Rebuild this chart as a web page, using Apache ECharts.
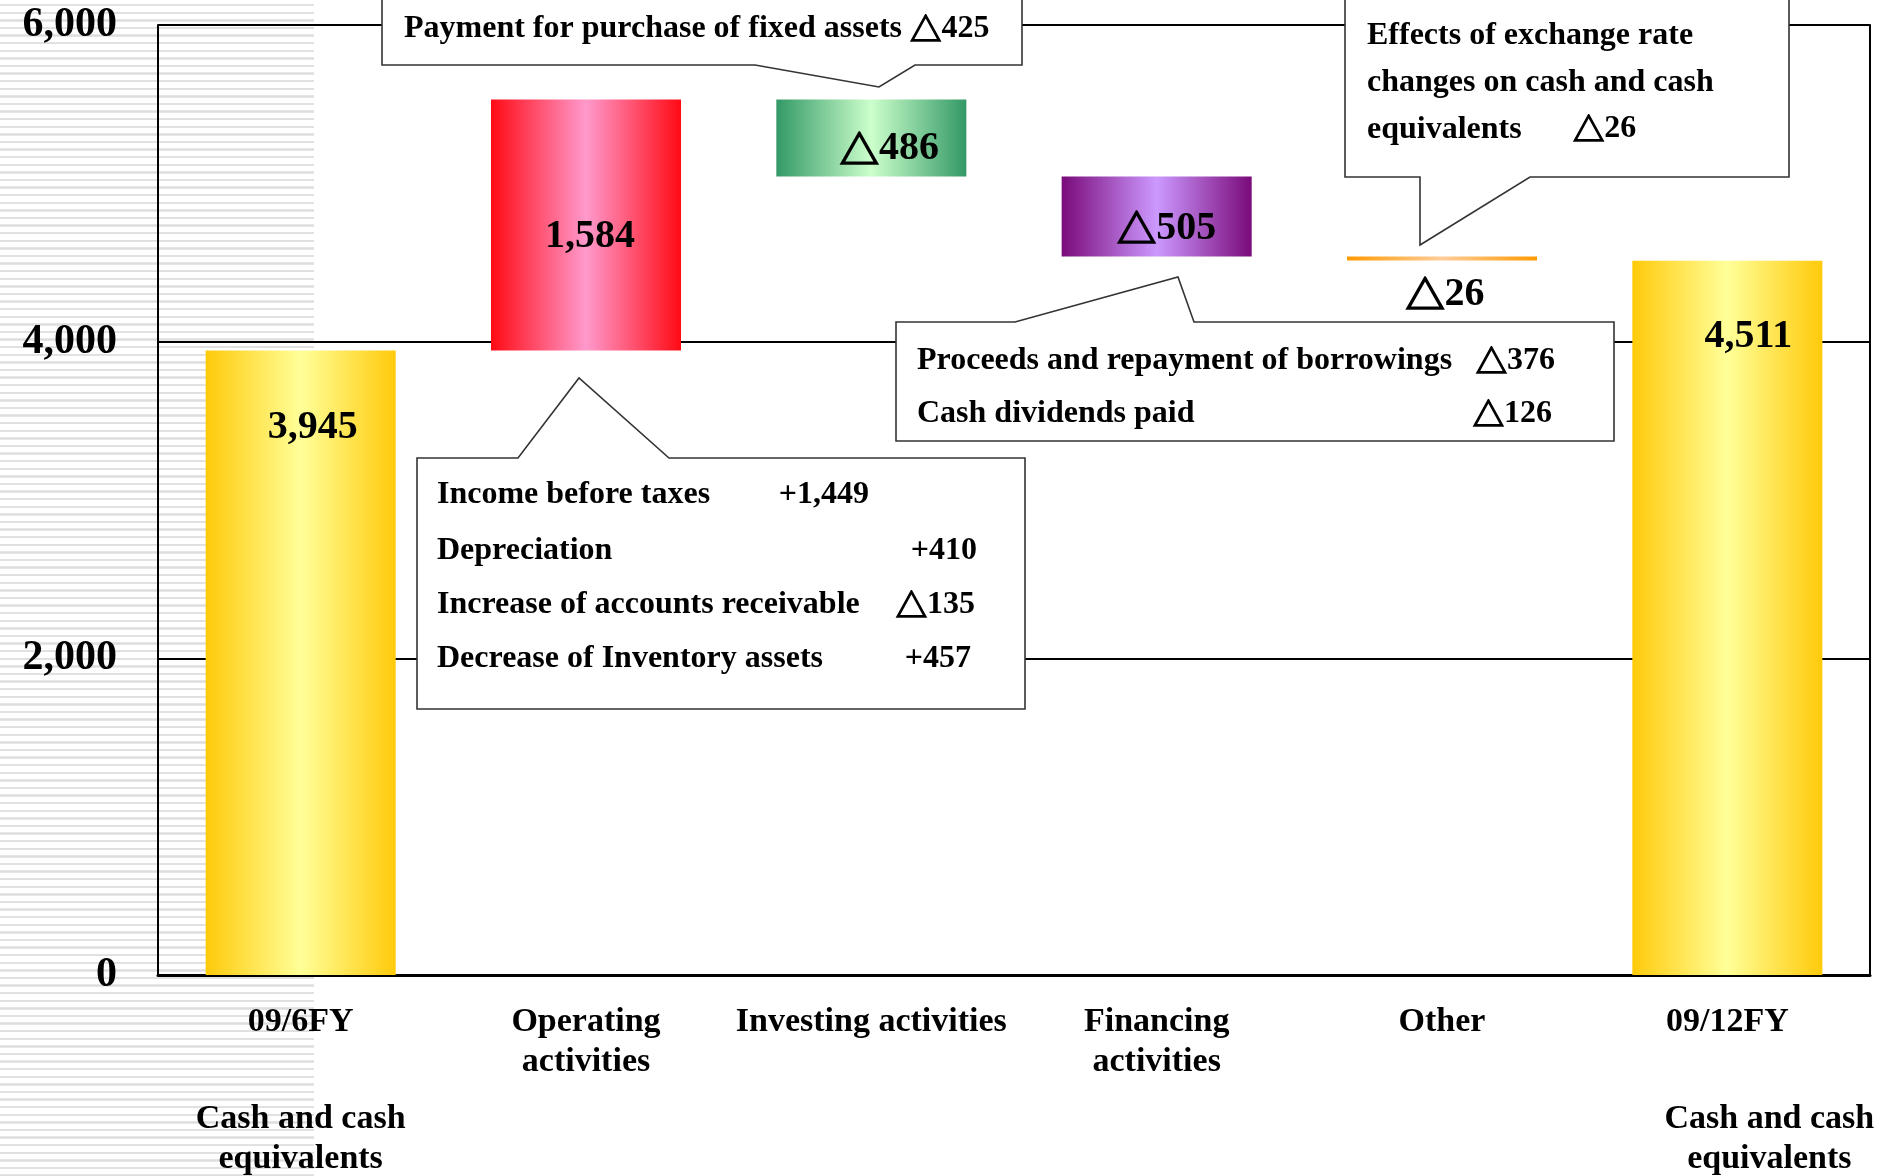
<!DOCTYPE html>
<html>
<head>
<meta charset="utf-8">
<script src="https://cdn.jsdelivr.net/npm/echarts/dist/echarts.min.js"></script>
<style>
  html, body { margin: 0; padding: 0; background: #fff; }
  #stripes {
    position: absolute; left: 0; top: 0; width: 314px; height: 1176px;
    background: repeating-linear-gradient(to bottom,
      #ffffff 0px, #ffffff 4.0px, #e8e8e8 4.0px, #dcdcdc 5.2px, #e8e8e8 6.4px, #ffffff 6.4px, #ffffff 7.6px);
  }
  #chart { position: absolute; left: 0; top: 0; width: 1892px; height: 1176px; }
</style>
</head>
<body>
<div id="stripes"></div>
<div id="chart"></div>
<script>
// ---- data -------------------------------------------------------------
const categories = ['09/6FY', 'Operating\nactivities', 'Investing activities', 'Financing\nactivities', 'Other', '09/12FY'];
const cashFlows = [3945, 1584, -486, -505, -26, 4511];   // balances and period flows (million yen)
const isBalance = [true, false, false, false, false, true];
const yTicks = { min: 0, max: 6000, interval: 2000 };

const investingItems = ['Payment for purchase of fixed assets'];
const investingValues = [-425];
const operatingItems = ['Income before taxes', 'Depreciation', 'Increase of accounts receivable', 'Decrease of Inventory assets'];
const operatingValues = [1449, 410, -135, 457];
const financingItems = ['Proceeds and repayment of borrowings', 'Cash dividends paid'];
const financingValues = [-376, -126];
const otherItems = ['Effects of exchange rate\nchanges on cash and cash\nequivalents'];
const otherValues = [-26];
const balanceCaption = 'Cash and cash\nequivalents';

// ---- helpers ----------------------------------------------------------
const SERIF = '"Liberation Serif", "Times New Roman", serif';
const TRI_FONT = '"Noto Sans CJK JP", "DejaVu Sans", sans-serif';
const withCommas = n => String(Math.abs(n)).replace(/\B(?=(\d{3})+(?!\d))/g, ',');
// negative amounts carry the Japanese-style triangle mark
const barText = v => (v < 0 ? '{t|\u25B3}' : '') + '{d|' + withCommas(v) + '}';
const noteText = v => (v < 0 ? '{t|\u25B3}' : '{d|+}') + '{d|' + withCommas(v) + '}';
const richFor = size => ({
  t: { fontFamily: TRI_FONT, fontWeight: 'bold', fontSize: size * 0.98, fill: '#000', stroke: '#000', lineWidth: size * 0.04 },
  d: { fontFamily: SERIF, fontWeight: 'bold', fontSize: size, fill: '#000' },
  p: { fontFamily: SERIF, fontWeight: 'bold', fontSize: size, fill: '#000' }
});

// waterfall extents: balances start at zero, flows continue from the running total
const extents = [];
let running = 0;
cashFlows.forEach((v, i) => {
  if (isBalance[i]) { extents.push([i, 0, v, v]); running = v; }
  else { extents.push([i, running, running + v, v]); running += v; }
});

// ---- styling ----------------------------------------------------------
const hGrad = (edge, mid) => new echarts.graphic.LinearGradient(0, 0, 1, 0, [
  { offset: 0, color: edge }, { offset: 0.5, color: mid }, { offset: 1, color: edge }
]);
const barFills = [
  hGrad('#FFCA0A', '#FFFF99'),
  hGrad('#FF0A14', '#FF99CC'),
  hGrad('#339966', '#CCFFCC'),
  hGrad('#7A0A7A', '#CC99FF'),
  hGrad('#FF9900', '#FFCC99'),
  hGrad('#FFCA0A', '#FFFF99')
];
const BAR_RATIO = 0.666;
// where each bar's value label sits: anchor on the bar plus a small nudge
const labelAnchor = ['top', 'middle', 'middle', 'middle', 'bottom', 'top'];
const labelNudge = [[12, 77], [4, 12], [18, 11], [10, 12], [3, 34], [21, 76]];

const chart = echarts.init(document.getElementById('chart'), null, { renderer: 'canvas' });

const NOTE_SIZE = 32;
const noteFont = 'bold ' + NOTE_SIZE + 'px ' + SERIF;
const calloutStroke = { stroke: '#333', lineWidth: 1.6, fill: '#fff' };

function calloutShape(points) {
  return { type: 'polygon', z: 100, shape: { points }, style: calloutStroke };
}
function noteLabel(text, x, y, align) {
  return {
    type: 'text', z: 101, x, y,
    style: { text, rich: richFor(NOTE_SIZE), font: noteFont, fill: '#000', align: align || 'left', verticalAlign: 'middle' }
  };
}

const graphics = [
  // investing activities detail
  calloutShape([[382, -5], [1022, -5], [1022, 65], [915, 65], [879, 87], [755, 65], [382, 65]]),
  noteLabel('{p|' + investingItems[0] + ' }' + noteText(investingValues[0]), 404, 29),

  // exchange-rate detail
  calloutShape([[1345, -5], [1789, -5], [1789, 177], [1530, 177], [1420, 245], [1420, 177], [1345, 177]]),
  {
    type: 'text', z: 101, x: 1367, y: 12,
    style: { text: otherItems[0], font: noteFont, fill: '#000', lineHeight: 47, align: 'left', verticalAlign: 'top' }
  },
  noteLabel(noteText(otherValues[0]), 1573, 129),

  // operating activities detail
  calloutShape([[417, 458], [518, 458], [579, 378], [669, 458], [1025, 458], [1025, 709], [417, 709]]),
  ...operatingItems.map((t, i) => noteLabel('{p|' + t + '}', 437, [495, 551, 605, 659][i])),
  ...operatingValues.map((v, i) => noteLabel(noteText(v), [869, 977, 975, 971][i], [495, 551, 605, 659][i], 'right')),

  // financing activities detail
  calloutShape([[896, 322], [1015, 322], [1178, 277], [1194, 322], [1614, 322], [1614, 441], [896, 441]]),
  ...financingItems.map((t, i) => noteLabel('{p|' + t + '}', 917, [361, 414][i])),
  ...financingValues.map((v, i) => noteLabel(noteText(v), [1555, 1552][i], [361, 414][i], 'right'))
];

const option = {
  backgroundColor: 'transparent',
  animation: false,
  grid: { left: 158, right: 22, top: 25, bottom: 200, containLabel: false },
  xAxis: {
    type: 'category',
    data: categories,
    axisLine: { show: true, lineStyle: { color: '#000', width: 3 } },
    axisTick: { show: false },
    axisLabel: {
      interval: 0,
      margin: 27,
      formatter: (val, idx) => {
        if (!isBalance[idx]) {
          return val.split('\n').map(s => '{n|' + s + '}').join('\n');
        }
        const tag = idx === 0 ? 'n' : 'r';
        return '{n|' + val + '}\n{gap| }\n' + balanceCaption.split('\n').map(s => '{' + tag + '|' + s + '}').join('\n');
      },
      rich: {
        n: { fontFamily: SERIF, fontWeight: 'bold', fontSize: 34, lineHeight: 40, color: '#000', align: 'center' },
        r: { fontFamily: SERIF, fontWeight: 'bold', fontSize: 34, lineHeight: 40, color: '#000', align: 'center', padding: [0, 0, 0, 84] },
        gap: { fontSize: 10, lineHeight: 57, align: 'center' }
      }
    }
  },
  yAxis: [
    {
      type: 'value',
      min: yTicks.min, max: yTicks.max, interval: yTicks.interval,
      axisLine: { show: true, lineStyle: { color: '#000', width: 2 } },
      axisTick: { show: false },
      splitLine: { show: true, lineStyle: { color: '#000', width: 2 } },
      axisLabel: {
        margin: 41,
        padding: [11, 0, 0, 0],
        fontFamily: SERIF, fontWeight: 'bold', fontSize: 42, color: '#000',
        formatter: v => withCommas(v)
      }
    },
    {
      type: 'value', position: 'right',
      min: yTicks.min, max: yTicks.max, interval: yTicks.interval,
      axisLine: { show: true, lineStyle: { color: '#000', width: 2 } },
      axisTick: { show: false }, axisLabel: { show: false }, splitLine: { show: false }
    }
  ],
  series: [{
    type: 'custom',
    data: extents,
    encode: { x: 0, y: [1, 2] },
    z: 10,
    renderItem: (params, api) => {
      const i = api.value(0);
      const p0 = api.coord([i, api.value(1)]);
      const p1 = api.coord([i, api.value(2)]);
      const v = api.value(3);
      const w = api.size([1, 0])[0] * BAR_RATIO;
      const top = Math.min(p0[1], p1[1]);
      const h = Math.abs(p0[1] - p1[1]);
      const [dx, dy] = labelNudge[i];
      const base = labelAnchor[i] === 'top' ? top : labelAnchor[i] === 'middle' ? top + h / 2 : top + h;
      return {
        type: 'group',
        children: [
          { type: 'rect', shape: { x: p0[0] - w / 2, y: top, width: w, height: h }, style: { fill: barFills[i] } },
          {
            type: 'text', x: p0[0] + dx, y: base + dy,
            style: { text: barText(v), rich: richFor(40), font: 'bold 40px ' + SERIF, fill: '#000', align: 'center', verticalAlign: 'middle' }
          }
        ]
      };
    }
  }],
  graphic: graphics
};

chart.setOption(option);
</script>
</body>
</html>
